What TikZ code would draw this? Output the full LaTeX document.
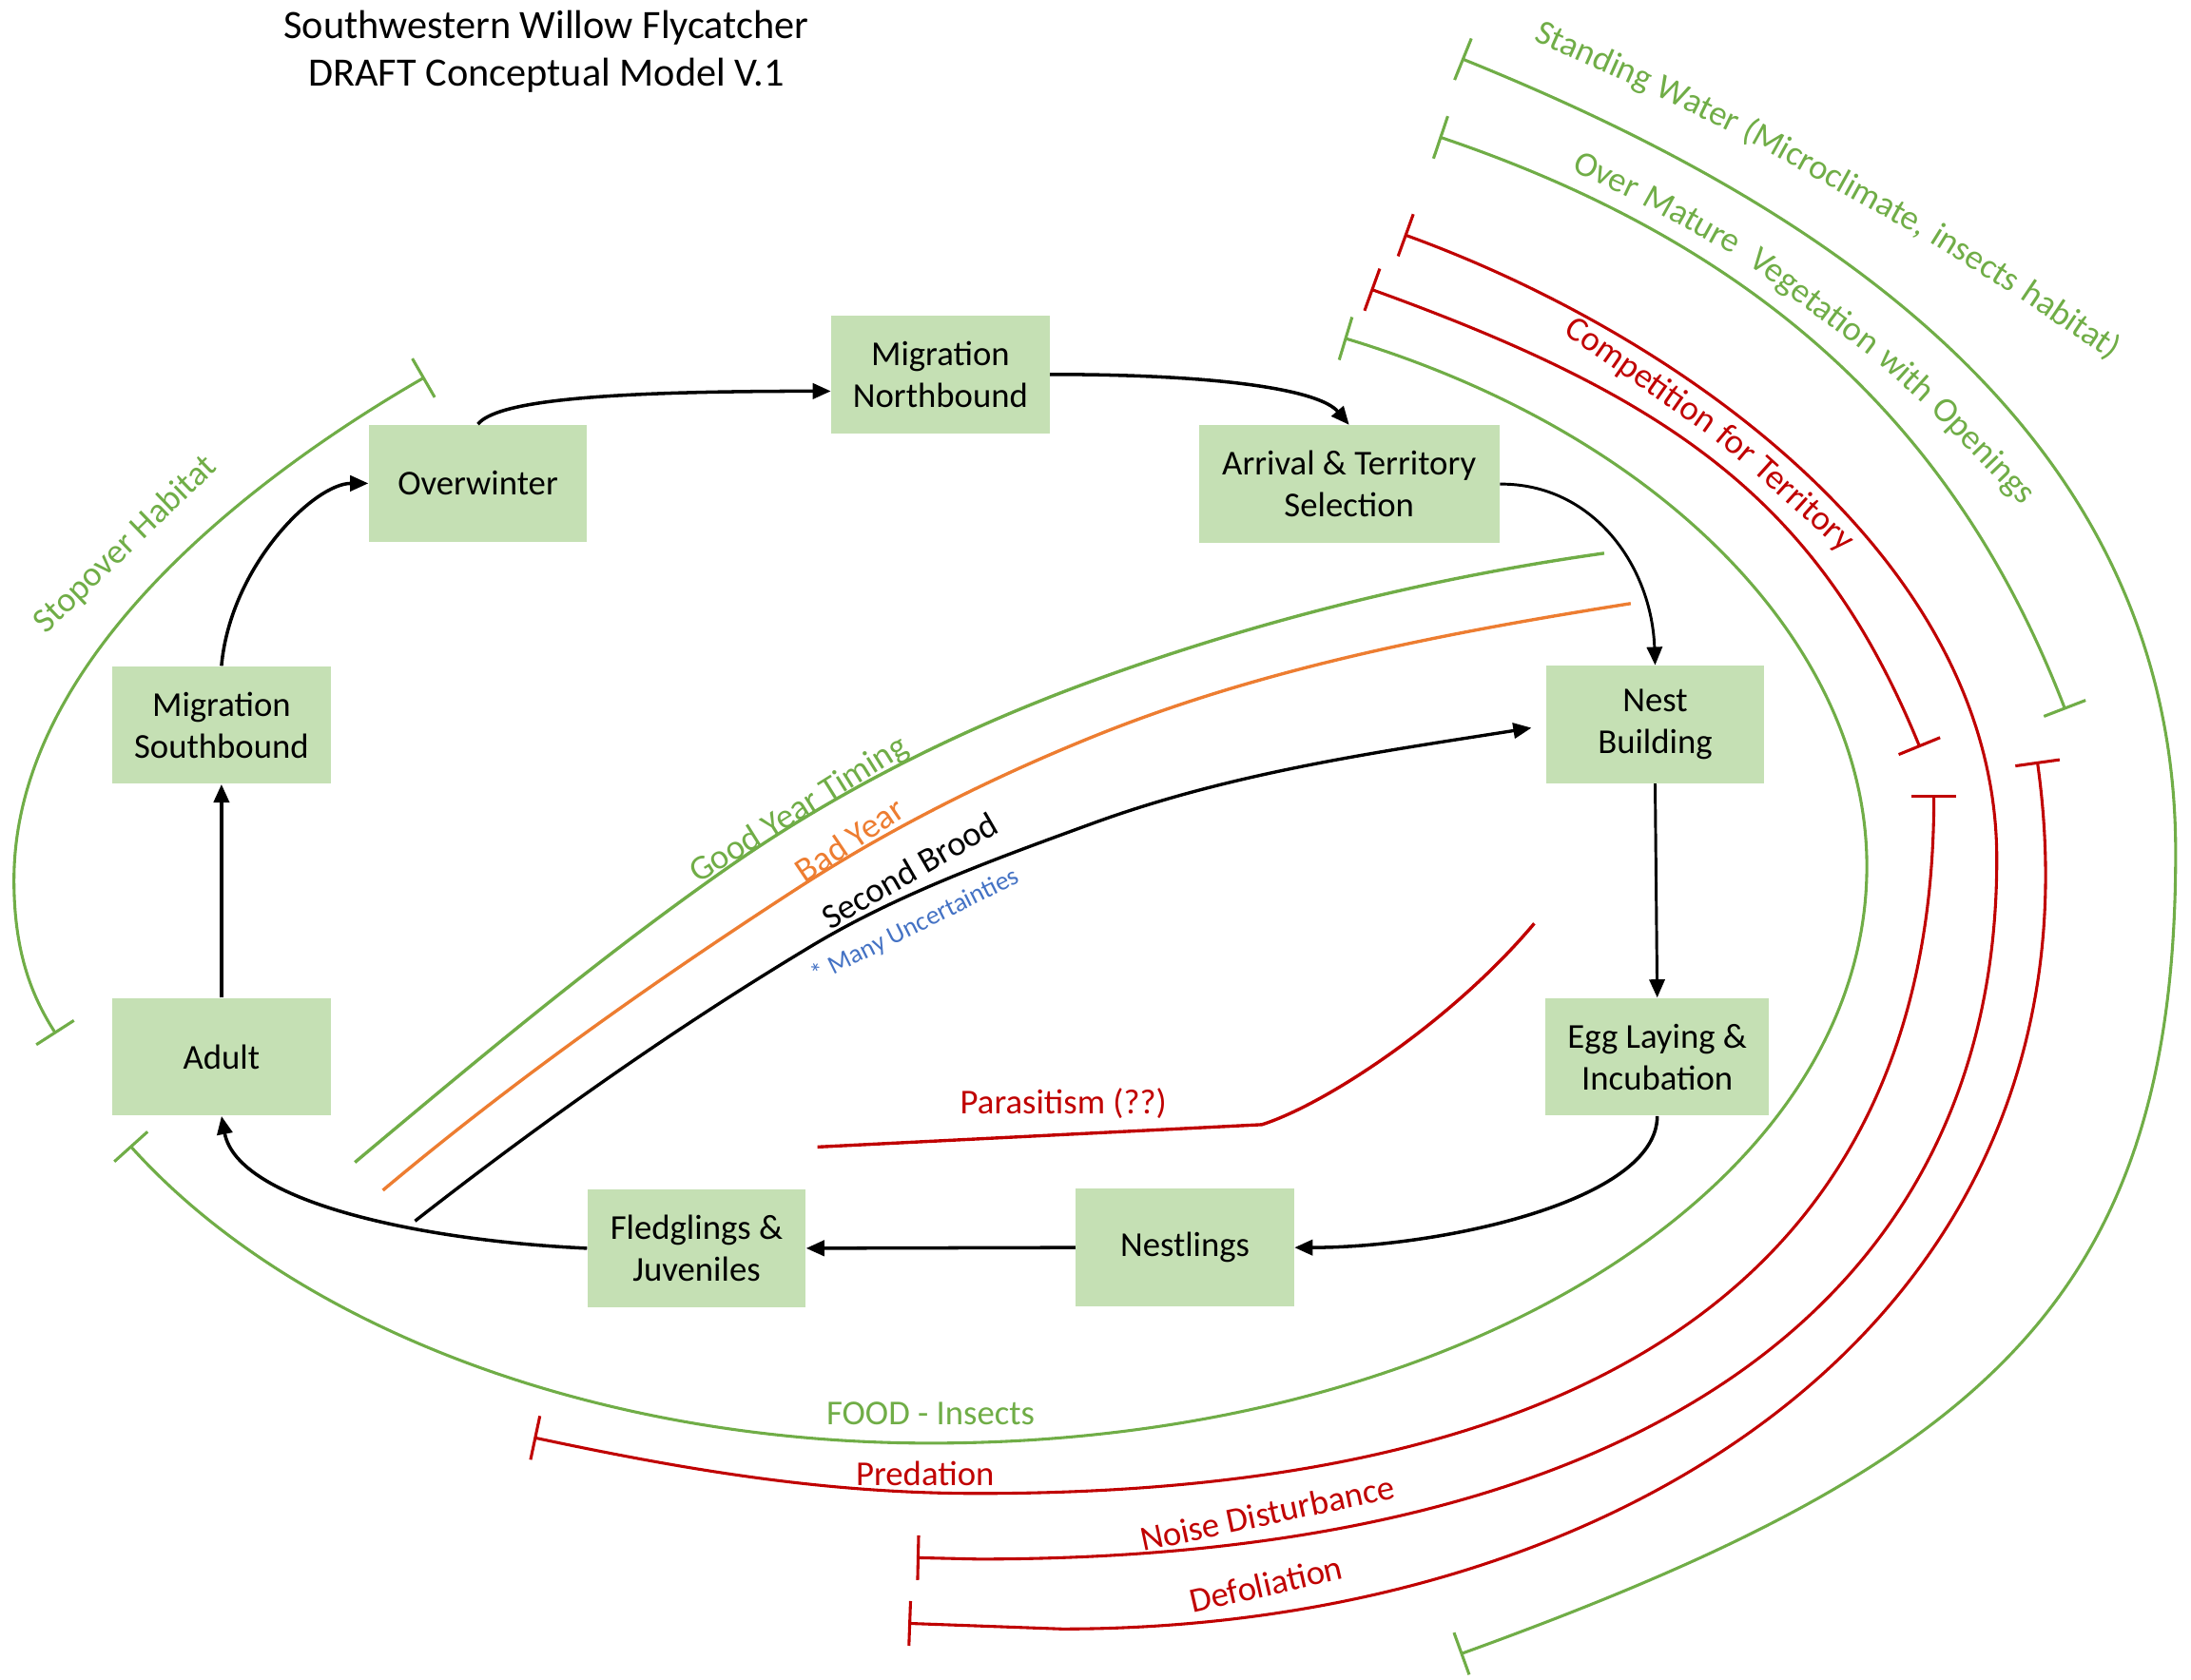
\documentclass[tikz,border=0pt]{standalone}
\usepackage{fontspec}
\setmainfont{Carlito}
\usetikzlibrary{arrows.meta,calc}
\definecolor{boxfill}{HTML}{C5E0B4}
\definecolor{cgreen}{HTML}{70AD47}
\definecolor{cred}{HTML}{C00000}
\definecolor{corange}{HTML}{ED7D31}
\definecolor{cblue}{HTML}{4472C4}
\newcommand{\swfBox}{\fontsize{12.5}{15}\selectfont}
\newcommand{\swfLbl}{\fontsize{12.5}{15}\selectfont}
\newcommand{\swfSmall}{\fontsize{9.4}{11}\selectfont}
\newcommand{\swfTitle}{\fontsize{14.4}{17}\selectfont}
\begin{document}
\begin{tikzpicture}[x=0.5pt,y=-0.5pt,
  stage/.style={fill=boxfill, draw=none, minimum width=78pt, minimum height=42pt, align=center, font=\swfBox, inner sep=0pt},
  arr/.style={draw=black, line width=1.2pt, -{Triangle[length=6.5pt,width=5.5pt]}},
  inhib/.style={line width=1.05pt, {Bar[width=16pt]}-{Bar[width=16pt]}},
  trend/.style={line width=1.15pt},
  lbl/.style={font=\swfLbl, inner sep=0pt},
  wl/.style={font=\swfLbl, inner sep=0pt, anchor=base west},
]
\useasboundingbox (0,0) rectangle (1568,1202);

% title
\node[font=\swfTitle, align=center] (title) at (391,37) {Southwestern Willow Flycatcher\\DRAFT Conceptual Model V.1};

% stages
\node[stage] (ow) at (342,346) {Overwinter};
\node[stage] (mn) at (673,268) {Migration\\Northbound};
\node[stage, minimum width=107.5pt] (ar) at (965.5,346.5) {Arrival \& Territory\\Selection};
\node[stage] (nb) at (1184.5,518.5) {Nest\\Building};
\node[stage, minimum width=80pt] (eg) at (1186,756.5) {Egg Laying \&\\Incubation};
\node[stage] (ne) at (848,893) {Nestlings};
\node[stage] (fj) at (498.5,893.5) {Fledglings \&\\Juveniles};
\node[stage] (ad) at (158.5,756.5) {Adult};
\node[stage] (ms) at (158.5,519) {Migration\\Southbound};

% life-cycle arrows
\draw[arr] (ow.north) .. controls (355,288) and (420,280) .. ($(mn.west)+(0,12)$);
\draw[arr] (mn.east) .. controls (880,268) and (945,280) .. (ar.north);
\draw[arr, line width=1pt] (ar.east) .. controls (1140,346) and (1182,405) .. (nb.north);
\draw[arr, line width=1pt] (nb.south) -- (eg.north);
\draw[arr] (eg.south) .. controls (1186,860) and (1030,893) .. (ne.east);
\draw[arr] (ne.west) -- (fj.east);
\draw[arr] (fj.west) .. controls (300,888) and (170,860) .. (ad.south);
\draw[arr] (ad.north) -- (ms.south);
\draw[arr] (ms.north) .. controls (165,405) and (225,346) .. (ow.west);

% timing lines
\coordinate (gy0) at (254,832);
\coordinate (gy1) at (1148,396);
\coordinate (by0) at (274,852);
\coordinate (by1) at (1167,432);
\coordinate (sb0) at (297,874);
\coordinate (sb1) at (1096,521);
\draw[cgreen, trend] (gy0) .. controls (340.6,759.4) and (428.4,685.8) .. (521,621)
  .. controls (601.3,564.8) and (690.9,520.5) .. (783,487)
  .. controls (900.5,444.2) and (1024.2,413.4) .. (gy1);
\draw[corange, trend] (by0) .. controls (367.5,773.6) and (466.7,703.4) .. (569,637)
  .. controls (636.1,593.4) and (708.8,557) .. (783,527)
  .. controls (905.4,477.6) and (1036.6,452.6) .. (by1);
\draw[black, trend, -{Triangle[length=6.5pt,width=5.5pt]}] (sb0) .. controls (387.6,803.2) and (482.4,736.2) .. (581,677)
  .. controls (643.6,639.4) and (714.4,614) .. (783,589)
  .. controls (883.5,552.4) and (990.3,537.7) .. (sb1);

% parasitism
\coordinate (pa0) at (585,821);
\coordinate (pa1) at (903,805);
\coordinate (pa2) at (1098,661);
\draw[cred, trend] (pa0) -- (pa1) .. controls (950,790) and (1040,730) .. (pa2);

% inhibition arcs
% Standing water
\draw[cgreen, inhib] (1046,42) .. controls (1306,147) and (1557,310) .. (1557,610)
  .. controls (1557,930) and (1421,1048) .. (1045,1184);
% Over mature vegetation
\draw[cgreen, inhib] (1030,98) .. controls (1276,181) and (1406,321) .. (1478,508);
% Noise disturbance (long red)
\draw[cred, inhib] (1005,168) .. controls (1193,236) and (1429,395) .. (1429,615)
  .. controls (1429,936) and (1167,1116) .. (700,1116) -- (656,1115);
% Competition for territory
\draw[cred, inhib] (981,207) .. controls (1197,285) and (1302,359) .. (1374,535);
% Predation
\draw[cred, inhib] (1384,569) .. controls (1384,909) and (1146,1069) .. (700,1069)
  .. controls (590,1069) and (490,1052) .. (382,1029);
% Defoliation
\draw[cred, inhib] (1458,545) .. controls (1513,938) and (1165,1166) .. (760,1166) -- (650,1162);
% Food - insects
\draw[cgreen, inhib] (962,242) .. controls (1191,311) and (1336,463) .. (1336,620)
  .. controls (1336,851) and (1041,1033) .. (666,1033)
  .. controls (427,1033) and (210,950) .. (93,820);
% Stopover habitat
\draw[cgreen, inhib] (304,270) .. controls (182.8,340) and (10,470) .. (10,630)
  .. controls (10,680) and (22,712) .. (40,740);

% curved labels, word by word
\node[wl, text=cgreen, rotate=-24] (sw1) at (1097,29) {Standing};
\node[wl, text=cgreen, rotate=-26] (sw2) at ($(sw1.base east)+(-25:2.83pt)$) {Water};
\node[wl, text=cgreen, rotate=-29] (sw3) at ($(sw2.base east)+(-27.5:2.83pt)$) {(Microclimate,};
\node[wl, text=cgreen, rotate=-32] (sw4) at ($(sw3.base east)+(-30.5:2.83pt)$) {insects};
\node[wl, text=cgreen, rotate=-34] (sw5) at ($(sw4.base east)+(-33:2.83pt)$) {habitat)};

\node[wl, text=cgreen, rotate=-25] (om1) at (1124,122) {Over};
\node[wl, text=cgreen, rotate=-29] (om2) at ($(om1.base east)+(-27:2.83pt)$) {Mature};
\node[wl, text=cgreen, rotate=-37] (om3) at ($(om2.base east)+(-33:5.66pt)$) {Vegetation};
\node[wl, text=cgreen, rotate=-42] (om4) at ($(om3.base east)+(-39.5:2.83pt)$) {with};
\node[wl, text=cgreen, rotate=-46] (om5) at ($(om4.base east)+(-44:2.83pt)$) {Openings};

\node[wl, text=cred, rotate=-35] (ct1) at (1118,238) {Competition};
\node[wl, text=cred, rotate=-40] (ct2) at ($(ct1.base east)+(-37.5:2.83pt)$) {for};
\node[wl, text=cred, rotate=-42] (ct3) at ($(ct2.base east)+(-41:2.83pt)$) {Territory};

% straight labels
\node[lbl, text=cgreen, rotate=44] (lstop) at (90,390) {Stopover Habitat};
\node[lbl, text=cgreen, rotate=32] (lgood) at (572,580) {Good Year Timing};
\node[lbl, text=corange, rotate=34] (lbad) at (608,601) {Bad Year};
\node[lbl, rotate=30] (lsec) at (651,623) {Second Brood};
\node[lbl, font=\swfSmall, text=cblue, rotate=26.5] (lunc) at (655,663) {* Many Uncertainties};
\node[lbl, text=cred] (lpar) at (761,790) {Parasitism (??)};
\node[lbl, text=cgreen] (lfood) at (666,1012) {FOOD - Insects};
\node[lbl, text=cred] (lpred) at (662,1055) {Predation};
\node[lbl, text=cred, rotate=12] (lnoise) at (907,1083) {Noise Disturbance};
\node[lbl, text=cred, rotate=13] (ldef) at (906,1134) {Defoliation};
\end{tikzpicture}
\end{document}
